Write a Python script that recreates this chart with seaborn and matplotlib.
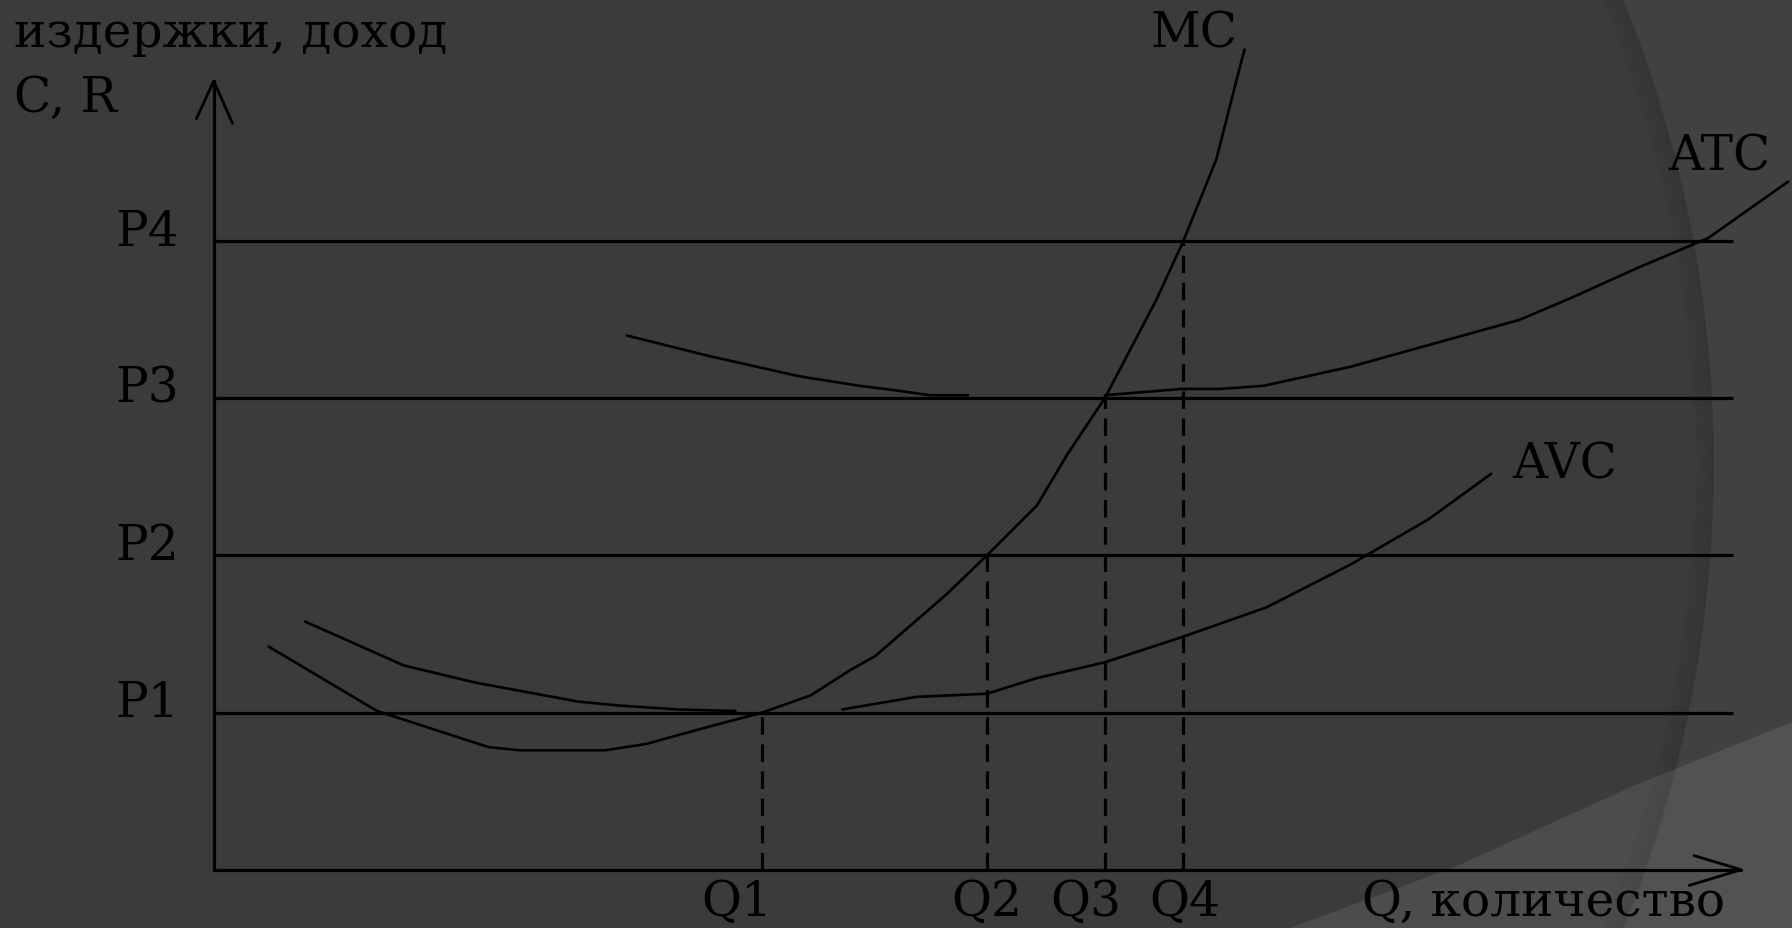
import numpy as np
import pandas as pd
import matplotlib
matplotlib.use("Agg")
import matplotlib.pyplot as plt
import seaborn as sns
from matplotlib.patches import Circle, Polygon, Rectangle

# ---------------- data (schematic units) ----------------
P_LEVELS = [1.0, 2.0, 3.0, 4.0]
P_LABELS = ["P1", "P2", "P3", "P4"]
Q_VALUES = [3.49, 4.92, 5.67, 6.17]
Q_LABELS = ["Q1", "Q2", "Q3", "Q4"]
Q_LABEL_X = [3.33, 4.92, 5.55, 6.18]

MC_Q = [0.35, 1.04, 1.75, 1.95, 2.49, 2.75, 3.15, 3.49, 3.80, 4.05, 4.21, 4.66,
        4.92, 5.24, 5.43, 5.67, 6.00, 6.17, 6.38, 6.51, 6.56]
MC_C = [1.42, 1.01, 0.78, 0.76, 0.76, 0.80, 0.91, 1.00, 1.11, 1.27, 1.36, 1.75,
        2.00, 2.32, 2.64, 3.00, 3.63, 4.00, 4.52, 5.03, 5.22]

AVC_LEFT_Q = [0.58, 1.21, 1.67, 2.32, 2.58, 2.95, 3.32]
AVC_LEFT_C = [1.58, 1.30, 1.19, 1.07, 1.045, 1.02, 1.01]
AVC_RIGHT_Q = [4.00, 4.47, 4.92, 5.24, 5.67, 6.16, 6.70, 7.23, 7.73, 8.13]
AVC_RIGHT_C = [1.02, 1.10, 1.12, 1.22, 1.32, 1.48, 1.67, 1.94, 2.23, 2.52]

ATC_LEFT_Q = [2.63, 3.15, 3.73, 4.11, 4.35, 4.56, 4.80]
ATC_LEFT_C = [3.40, 3.27, 3.14, 3.08, 3.05, 3.02, 3.02]
ATC_RIGHT_Q = [5.67, 6.16, 6.40, 6.68, 7.23, 8.31, 8.64, 9.06, 9.51, 10.02]
ATC_RIGHT_C = [3.02, 3.06, 3.06, 3.08, 3.20, 3.50, 3.64, 3.83, 4.02, 4.38]

X_END = 9.72
Y_END = 5.02
LINE_END = 9.67

Y_TITLE = "издержки, доход"
Y_SUB = "C, R"
X_TITLE = "Q, количество"

# ---------------- style ----------------
sns.set_theme(style="white")
plt.rcParams["font.family"] = ["DejaVu Serif", "Liberation Serif"]

W, H = 1792, 929
fig = plt.figure(figsize=(W / 100, H / 100), dpi=100)
BG = "#3b3b3b"
fig.patch.set_facecolor(BG)

# background decoration axes (pixel coordinates)
bg = fig.add_axes([0, 0, 1, 1], zorder=0)
bg.set_xlim(0, W)
bg.set_ylim(H, 0)
bg.axis("off")
bg.add_patch(Rectangle((0, 0), W, H, color="#414141", zorder=0))
cx, cy, R = 478, 465, 1236
bg.add_patch(Circle((cx, cy), R, color=BG, lw=0, zorder=1))
for i in range(10):
    bg.add_patch(Circle((cx, cy), R - 1.5 - i * 2.0, fill=False,
                        edgecolor="#000000", lw=1.6, alpha=0.09 * (1 - i / 10),
                        zorder=2))
light = Polygon([(1290, H), (1457, 867), (1633, 787), (1792, 723), (W, H)],
                closed=True, color="#ffffff", alpha=0.09, lw=0, zorder=3)
bg.add_patch(light)

# main axes
ax = fig.add_axes([0, 0, 1, 1], zorder=1)
ax.patch.set_alpha(0)
ax.set_xlim(-1.36, 10.044)
ax.set_ylim(-0.371, 5.542)
ax.axis("off")

K = "black"
# price lines
for p in P_LEVELS:
    ax.plot([0, LINE_END], [p, p], color=K, lw=2.3, solid_capstyle="butt")

# axes with open arrowheads
ax.plot([0, 0], [0, Y_END], color=K, lw=2.3)
ax.plot([0, X_END], [0, 0], color=K, lw=2.3)
ax.plot([-0.11, 0, 0.12], [Y_END - 0.24, Y_END, Y_END - 0.27], color=K, lw=2.0)
ax.plot([X_END - 0.30, X_END, X_END - 0.33], [0.09, 0, -0.10], color=K, lw=2.0)

# dashed drop lines
for q, p in zip(Q_VALUES, P_LEVELS):
    ax.plot([q, q], [0, p], color=K, lw=2.3, linestyle=(0, (5.5, 3.0)))

# curves
def curve(qs, cs):
    df = pd.DataFrame({"Q": qs, "C": cs})
    sns.lineplot(data=df, x="Q", y="C", ax=ax, color=K, lw=1.9, sort=False,
                 estimator=None)

curve(MC_Q, MC_C)
curve(AVC_LEFT_Q, AVC_LEFT_C)
curve(AVC_RIGHT_Q, AVC_RIGHT_C)
curve(ATC_LEFT_Q, ATC_LEFT_C)
curve(ATC_RIGHT_Q, ATC_RIGHT_C)

FS = 35
for p, lab in zip(P_LEVELS, P_LABELS):
    ax.text(-0.22, p + 0.065, lab, ha="right", va="center", fontsize=FS, color=K)
for qx, lab in zip(Q_LABEL_X, Q_LABELS):
    ax.text(qx, -0.205, lab, ha="center", va="center", fontsize=FS, color=K)
ax.text(8.46, -0.205, X_TITLE, ha="center", va="center", fontsize=FS, color=K)
ax.text(-1.273, 5.244, Y_TITLE, ha="left", va="baseline", fontsize=FS, color=K)
ax.text(-1.273, 4.829, Y_SUB, ha="left", va="baseline", fontsize=FS, color=K)
ax.text(6.24, 5.324, "MC", ha="center", va="center", fontsize=FS, color=K)
ax.text(9.258, 4.545, "ATC", ha="left", va="center", fontsize=FS, color=K)
ax.text(8.262, 2.582, "AVC", ha="left", va="center", fontsize=FS, color=K)

fig.savefig("out.png", dpi=100, facecolor=fig.get_facecolor())
